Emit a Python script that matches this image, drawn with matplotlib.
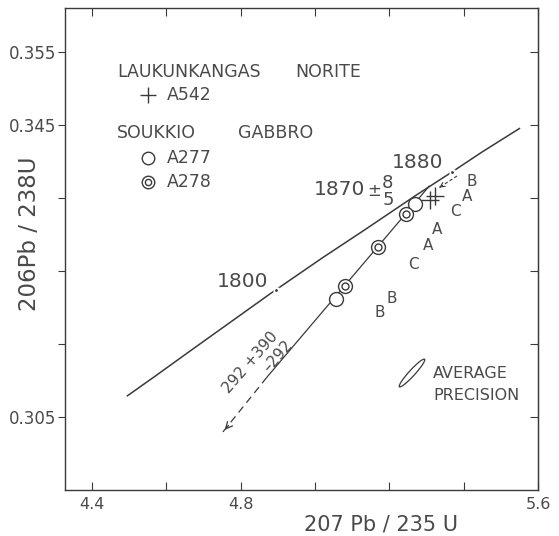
import matplotlib
matplotlib.use('Agg')
import matplotlib.pyplot as plt
from matplotlib.patches import Ellipse

# Concordia curve
conc_x = [4.495, 4.57, 4.66, 4.77, 4.88, 5.02, 5.13, 5.27, 5.37, 5.45, 5.55]
conc_y = [0.3079, 0.3106, 0.3139, 0.3179, 0.3219, 0.3268, 0.3305, 0.3353, 0.3386, 0.3413, 0.3445]
age_marks = [(4.896, 0.3224), (5.369, 0.3386)]

# Discordia: lower arrow tip, end of solid part, upper intercept
disc_dash_x = [4.752, 4.871]
disc_dash_y = [0.30295, 0.31048]
disc_solid_x = [4.871, 5.307]
disc_solid_y = [0.31048, 0.3366]

# Samples
a277_x = [5.056, 5.269]
a277_y = [0.32116, 0.33418]
a278_x = [5.081, 5.169, 5.245]
a278_y = [0.32295, 0.32829, 0.33281]
a542_x = [5.309, 5.322]
a542_y = [0.3347, 0.3353]

# Lettered points
let_txt = ['B', 'A', 'C', 'A', 'A', 'C', 'B', 'B']
let_x = [5.422, 5.409, 5.379, 5.328, 5.304, 5.264, 5.207, 5.175]
let_y = [0.33719, 0.33514, 0.33308, 0.33062, 0.32842, 0.32582, 0.32116, 0.31925]

line_c = '#3a3a3a'
txt_c = '#4a4a4a'

fig = plt.figure(figsize=(5.59, 5.36), dpi=100)
ax = fig.add_axes([65/559, 1-490/536, 473/559, 482/536])
ax.set_xlim(4.327, 5.6)
ax.set_ylim(0.295, 0.361)

# concordia
ax.plot(conc_x, conc_y, color=line_c, lw=1.1, zorder=2)
for mx, my in age_marks:
    ax.plot(mx, my, marker='s', ms=4, color='white', mec='none', zorder=3)
    ax.plot(mx, my, marker='.', ms=2, color=line_c, zorder=4)
ax.text(4.806, 0.3235, '1800', fontsize=14.5, color=txt_c, ha='center', va='center')
ax.text(5.277, 0.3398, '1880', fontsize=14.5, color=txt_c, ha='center', va='center')

# discordia
ax.plot(disc_solid_x, disc_solid_y, color=line_c, lw=0.9, zorder=2)
ax.plot(disc_dash_x, disc_dash_y, color=line_c, lw=0.9, ls=(0, (6, 4)), zorder=2)
ax.annotate('', xy=(disc_dash_x[0], disc_dash_y[0]),
            xytext=(disc_dash_x[0] + 0.02, disc_dash_y[0] + 0.00117),
            arrowprops=dict(arrowstyle='->', color=line_c, lw=0.9, mutation_scale=12))
ax.text(4.825, 0.3125, '292 +390', fontsize=11, color=txt_c,
        rotation=49, ha='center', va='center', rotation_mode='anchor')
ax.text(4.900, 0.3133, '\u2013292', fontsize=11, color=txt_c,
        rotation=49, ha='center', va='center', rotation_mode='anchor')

# short dashed arrow at the upper intercept
ax.plot([5.382, 5.340], [0.3380, 0.3366], color=line_c, lw=0.8, ls=(0, (3, 2)), zorder=2)
ax.annotate('', xy=(5.328, 0.3362), xytext=(5.343, 0.3367),
            arrowprops=dict(arrowstyle='->', color=line_c, lw=0.8, mutation_scale=8))

# upper intercept label
ax.text(5.067, 0.3361, '1870', fontsize=14.5, color=txt_c, ha='center', va='center')
ax.text(5.160, 0.3360, '\u00b1', fontsize=12, color=txt_c, ha='center', va='center')
ax.text(5.196, 0.3370, '8', fontsize=13, color=txt_c, ha='center', va='center')
ax.text(5.196, 0.3347, '5', fontsize=13, color=txt_c, ha='center', va='center')

# samples
ax.plot(a277_x, a277_y, ls='none', marker='o', ms=10, mfc='white', mec=line_c, mew=1.0, zorder=5)
ax.plot(a278_x, a278_y, ls='none', marker='o', ms=10, mfc='white', mec=line_c, mew=1.0, zorder=5)
ax.plot(a278_x, a278_y, ls='none', marker='o', ms=5, mfc='none', mec=line_c, mew=1.0, zorder=6)
ax.plot(a542_x, a542_y, ls='none', marker='+', ms=13, color=line_c, mew=1.0, zorder=5)

for t, x, y in zip(let_txt, let_x, let_y):
    ax.text(x, y, t, fontsize=11, color=txt_c, ha='center', va='center')

# average precision ellipse
ax.add_patch(Ellipse((0.7336, 0.2427), 0.078, 0.0125, angle=47, transform=ax.transAxes,
                     fill=False, ec=line_c, lw=0.9))
ax.text(0.778, 0.2427, 'AVERAGE', transform=ax.transAxes, fontsize=11.5, color=txt_c, va='center')
ax.text(0.778, 0.197, 'PRECISION', transform=ax.transAxes, fontsize=11.5, color=txt_c, va='center')

# legend texts
fs_leg = 12.5
ax.text(0.110, 0.867, 'LAUKUNKANGAS', transform=ax.transAxes, fontsize=fs_leg, color=txt_c, va='center')
ax.text(0.486, 0.867, 'NORITE', transform=ax.transAxes, fontsize=fs_leg, color=txt_c, va='center')
ax.plot(0.176, 0.819, marker='+', ms=12, color=line_c, mew=1.0, transform=ax.transAxes)
ax.text(0.215, 0.819, 'A542', transform=ax.transAxes, fontsize=fs_leg, color=txt_c, va='center')
ax.text(0.110, 0.740, 'SOUKKIO', transform=ax.transAxes, fontsize=fs_leg, color=txt_c, va='center')
ax.text(0.366, 0.740, 'GABBRO', transform=ax.transAxes, fontsize=fs_leg, color=txt_c, va='center')
ax.plot(0.176, 0.689, marker='o', ms=9, mfc='none', mec=line_c, mew=1.0, transform=ax.transAxes)
ax.text(0.215, 0.689, 'A277', transform=ax.transAxes, fontsize=fs_leg, color=txt_c, va='center')
ax.plot(0.176, 0.639, marker='o', ms=9, mfc='none', mec=line_c, mew=1.0, transform=ax.transAxes)
ax.plot(0.176, 0.639, marker='o', ms=4.5, mfc='none', mec=line_c, mew=1.0, transform=ax.transAxes)
ax.text(0.215, 0.639, 'A278', transform=ax.transAxes, fontsize=fs_leg, color=txt_c, va='center')

# axes and ticks
for s in ax.spines.values():
    s.set_color(line_c)
    s.set_linewidth(1.0)
xt = [4.4, 4.6, 4.8, 5.0, 5.2, 5.4, 5.6]
ax.set_xticks(xt)
ax.set_xticklabels(['4.4', '', '4.8', '', '', '', '5.6'])
yt = [0.305, 0.315, 0.325, 0.335, 0.345, 0.355]
ax.set_yticks(yt)
ax.set_yticklabels(['0.305', '', '', '', '0.345', '0.355'])
ax.tick_params(axis='x', direction='in', top=True, length=6, color=line_c, labelsize=11.5, labelcolor=txt_c, pad=5)
ax.tick_params(axis='y', direction='out', length=5, color=line_c, labelsize=12, labelcolor=txt_c, pad=1)
sec = ax.secondary_yaxis('right')
sec.set_yticks(yt)
sec.set_yticklabels([])
sec.tick_params(direction='in', length=6, color=line_c)
sec.spines['right'].set_color(line_c)

ax.set_xlabel('207 Pb / 235 U', fontsize=15, color=txt_c)
ax.set_ylabel('206Pb / 238U', fontsize=16.5, color=txt_c)
ax.xaxis.label.set_va('center')
ax.yaxis.label.set_va('center')
ax.xaxis.set_label_coords(0.668, -0.0726)
ax.yaxis.set_label_coords(-0.074, 0.531)

fig.savefig('out.png', dpi=100)
